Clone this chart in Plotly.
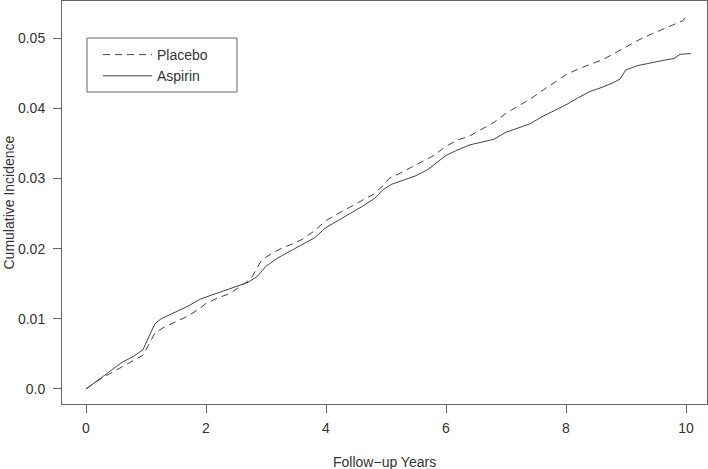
import plotly.graph_objects as go

# Placebo (dashed)
placebo_t = [0, 0.2, 0.4, 0.6, 0.8, 0.95, 1.05, 1.15, 1.3, 1.5, 1.7, 1.9, 2.0, 2.2, 2.4, 2.6, 2.75,
             2.9, 3.0, 3.2, 3.4, 3.6, 3.8, 4.0, 4.2, 4.4, 4.6, 4.8, 4.95, 5.05, 5.2, 5.4, 5.6, 5.8,
             6.0, 6.2, 6.4, 6.6, 6.8, 7.0, 7.2, 7.4, 7.6, 7.8, 8.0, 8.2, 8.4, 8.6, 8.8, 9.0, 9.2,
             9.4, 9.6, 9.8, 9.95, 10.02]
placebo_y = [0, 0.0012, 0.0022, 0.0032, 0.0041, 0.0048, 0.0063, 0.0080, 0.0088, 0.0096, 0.0104,
             0.0115, 0.0122, 0.0130, 0.0136, 0.0148, 0.0157, 0.0180, 0.0188, 0.0198, 0.0205,
             0.0213, 0.0225, 0.0240, 0.0250, 0.0259, 0.0268, 0.0278, 0.0290, 0.0300, 0.0306,
             0.0315, 0.0324, 0.0333, 0.0346, 0.0355, 0.0361, 0.0370, 0.0380, 0.0393, 0.0403,
             0.0413, 0.0425, 0.0437, 0.0448, 0.0456, 0.0463, 0.0469, 0.0478, 0.0488, 0.0497,
             0.0505, 0.0512, 0.0520, 0.0525, 0.0533]

# Aspirin (solid)
aspirin_t = [0, 0.2, 0.4, 0.6, 0.8, 0.95, 1.05, 1.15, 1.25, 1.5, 1.7, 1.9, 2.1, 2.3, 2.5, 2.7,
             2.85, 3.0, 3.2, 3.4, 3.6, 3.8, 4.0, 4.2, 4.4, 4.6, 4.8, 4.95, 5.1, 5.3, 5.5, 5.7,
             5.9, 6.0, 6.2, 6.4, 6.6, 6.8, 7.0, 7.2, 7.4, 7.6, 7.8, 8.0, 8.2, 8.4, 8.6, 8.8,
             8.9, 9.0, 9.2, 9.4, 9.6, 9.8, 9.9, 10.08]
aspirin_y = [0, 0.0013, 0.0025, 0.0038, 0.0047, 0.0056, 0.0075, 0.0093, 0.0100, 0.0110, 0.0118,
             0.0128, 0.0134, 0.0139, 0.0145, 0.0152, 0.0160, 0.0175, 0.0187, 0.0196, 0.0205,
             0.0215, 0.0230, 0.0240, 0.0249, 0.0260, 0.0271, 0.0284, 0.0292, 0.0298, 0.0304,
             0.0313, 0.0326, 0.0333, 0.0341, 0.0348, 0.0352, 0.0356, 0.0366, 0.0372, 0.0378,
             0.0388, 0.0396, 0.0405, 0.0415, 0.0424, 0.0430, 0.0437, 0.0442, 0.0455, 0.0461,
             0.0465, 0.0468, 0.0471, 0.0477, 0.0478]

x_ticks = [0, 2, 4, 6, 8, 10]
x_ticklabels = ["0", "2", "4", "6", "8", "10"]
y_ticks = [0, 0.01, 0.02, 0.03, 0.04, 0.05]
y_ticklabels = ["0.0", "0.01", "0.02", "0.03", "0.04", "0.05"]

x_title = "Follow\u2212up Years"
y_title = "Cumulative Incidence"

LINE = "#444444"
TEXT = "#333333"
FONT = "Liberation Sans, Arial, sans-serif"

fig = go.Figure()
fig.add_trace(go.Scatter(x=placebo_t, y=placebo_y, mode="lines", name="Placebo",
                         line=dict(color=LINE, width=1, dash="7px,5px")))
fig.add_trace(go.Scatter(x=aspirin_t, y=aspirin_y, mode="lines", name="Aspirin",
                         line=dict(color=LINE, width=1)))

axis_common = dict(showline=True, mirror=True, linecolor="#666666", linewidth=1,
                   ticks="outside", ticklen=8, tickcolor="#666666", showgrid=False,
                   zeroline=False, automargin=False,
                   tickfont=dict(family=FONT, size=14, color=TEXT))

fig.update_xaxes(range=[-0.4, 10.35], tickvals=x_ticks, ticktext=x_ticklabels,
                 ticklabelstandoff=3, **axis_common)
fig.update_yaxes(range=[-0.00214, 0.0553], tickvals=y_ticks, ticktext=y_ticklabels,
                 ticklabelstandoff=5, **axis_common)

# axis titles
fig.add_annotation(text=x_title, xref="paper", yref="paper", x=0.5, y=-(462 - 404) / 403,
                   xanchor="center", yanchor="middle", showarrow=False,
                   font=dict(family=FONT, size=14, color=TEXT))
fig.add_annotation(text=y_title, xref="paper", yref="paper", x=-(62 - 8) / 645, y=0.5,
                   xanchor="center", yanchor="middle", showarrow=False, textangle=-90,
                   font=dict(family=FONT, size=14, color=TEXT))

# legend frame
fig.add_shape(type="rect", xref="paper", yref="paper",
              x0=(87 - 62) / 645, x1=(237 - 62) / 645,
              y0=(404 - 92) / 403, y1=(404 - 38) / 403,
              line=dict(color="#666666", width=1), fillcolor="rgba(0,0,0,0)")

fig.update_layout(
    width=708, height=469,
    margin=dict(l=62, r=1, t=1, b=65, autoexpand=False),
    paper_bgcolor="white", plot_bgcolor="white",
    font=dict(family=FONT, size=14, color=TEXT),
    showlegend=True,
    legend=dict(x=(98 - 62) / 645, y=(404 - 39) / 403, xanchor="left", yanchor="top",
                bgcolor="rgba(0,0,0,0)", borderwidth=0, itemwidth=49,
                font=dict(family=FONT, size=14, color=TEXT)),
)

fig.write_html("out.html", config={"displayModeBar": False},
               post_script="document.body.style.margin='0px';document.body.style.overflow='hidden';")
